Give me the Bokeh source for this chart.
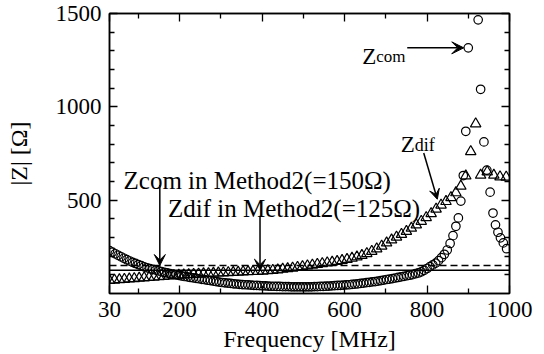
from bokeh.plotting import figure
from bokeh.models import Range1d, LinearAxis, FixedTicker, Span, Label, Arrow, VeeHead
from bokeh.embed import file_html
from bokeh.resources import INLINE

# Common-mode impedance |Zcom| (open circles)
freq_com = [
    30, 37, 44, 51, 58, 65, 72, 79, 86, 93,
    100, 107, 114, 121, 128, 135, 142, 149, 156, 163,
    170, 177, 184, 191, 198, 205, 212, 219, 226, 233,
    240, 247, 254, 261, 268, 275, 282, 289, 296, 303,
    310, 317, 324, 331, 338, 345, 352, 359, 366, 373,
    380, 387, 394, 401, 408, 415, 422, 429, 436, 443,
    450, 457, 464, 471, 478, 485, 492, 499, 506, 513,
    520, 527, 534, 541, 548, 555, 562, 569, 576, 583,
    590, 597, 604, 611, 618, 625, 632, 639, 646, 653,
    660, 667, 674, 681, 688, 695, 702, 709, 716, 723,
    730, 737, 744, 751, 758, 765, 772, 779, 786, 793,
    800, 807, 814, 821, 828, 835, 842, 849, 856, 863,
    870, 876, 882, 888, 894, 900, 924, 930, 938, 945,
    953, 960, 966, 972, 978, 985, 993,
]
z_com = [
    230, 222, 213, 205, 197, 189, 181, 174, 167, 161,
    155, 149, 143, 138, 133, 129, 125, 121, 117, 113,
    110, 106, 103, 100, 97, 94, 91, 89, 86, 84,
    81, 79, 76, 74, 71, 69, 66, 64, 61, 59,
    57, 56, 54, 52, 51, 49, 48, 47, 46, 45,
    44, 43, 42, 41, 41, 40, 39, 39, 38, 38,
    37, 37, 37, 36, 36, 36, 36, 36, 36, 36,
    36, 37, 37, 38, 38, 39, 40, 41, 42, 43,
    44, 45, 46, 47, 49, 50, 52, 54, 56, 58,
    60, 62, 64, 66, 69, 72, 75, 77, 80, 83,
    86, 89, 92, 95, 98, 101, 106, 110, 116, 124,
    134, 144, 153, 163, 176, 192, 210, 233, 268, 310,
    360, 405, 495, 632, 869, 1316, 1466, 1094, 812, 661,
    543, 431, 368, 328, 298, 271, 240,
]

# Differential-mode impedance |Zdif| (open triangles)
freq_dif = [
    30, 42, 54, 66, 78, 90, 102, 114, 126, 138,
    150, 162, 174, 186, 198, 210, 222, 234, 246, 258,
    270, 282, 294, 306, 318, 330, 342, 354, 366, 378,
    390, 402, 414, 426, 438, 450, 462, 474, 486, 498,
    510, 522, 534, 546, 558, 570, 582, 594, 606, 618,
    630, 642, 654, 666, 678, 690, 702, 714, 726, 738,
    750, 762, 774, 786, 798, 810, 822, 834, 846, 858,
    870, 882, 894, 906, 918, 930, 946, 962, 977, 992,
]
z_dif = [
    70, 72, 74, 76, 78, 80, 82, 84, 86, 88,
    90, 92, 94, 96, 98, 100, 101, 103, 104, 106,
    107, 109, 110, 111, 112, 113, 114, 116, 117, 118,
    119, 120, 122, 124, 127, 130, 133, 136, 140, 144,
    148, 152, 156, 160, 164, 168, 172, 177, 183, 189,
    196, 204, 214, 226, 239, 254, 271, 287, 302, 317,
    333, 350, 368, 387, 407, 428, 452, 474, 493, 514,
    540, 575, 630, 760, 909, 634, 652, 634, 625, 624,
]

# Reference impedances from Method2
z_com_method2 = 150
z_dif_method2 = 125

x_ticks = [30, 200, 400, 600, 800, 1000]
x_minor = [100, 300, 500, 700, 900]
y_ticks = [500, 1000, 1500]
y_minor = [100, 200, 300, 400, 600, 700, 800, 900, 1100, 1200, 1300, 1400]

SERIF = "Liberation Serif"

p = figure(
    width=544, height=354,
    x_range=Range1d(30, 1000), y_range=Range1d(0, 1500),
    output_backend="svg", toolbar_location=None,
    x_axis_label="Frequency [MHz]", y_axis_label="|Z| [Ω]",
    min_border_left=109, min_border_right=35,
    min_border_top=13, min_border_bottom=61,
)
p.background_fill_color = "white"
p.border_fill_color = "white"
p.outline_line_color = "black"
p.outline_line_width = 1.5
p.xgrid.visible = False
p.ygrid.visible = False


def style_axis(ax, ticks, minor, labels=True):
    ax.ticker = FixedTicker(ticks=ticks, minor_ticks=minor)
    ax.axis_line_color = "black"
    ax.axis_line_width = 1.5
    ax.major_tick_in = 8
    ax.major_tick_out = 0
    ax.minor_tick_in = 5
    ax.minor_tick_out = 0
    ax.major_tick_line_width = 1.3
    ax.minor_tick_line_width = 1.3
    ax.major_tick_line_color = "black"
    ax.minor_tick_line_color = "black"
    if labels:
        ax.major_label_text_font = SERIF
        ax.major_label_text_font_size = "23px"
        ax.major_label_text_color = "black"
        ax.axis_label_text_font = SERIF
        ax.axis_label_text_font_size = "24px"
        ax.axis_label_text_font_style = "normal"
        ax.axis_label_text_color = "black"
    else:
        # tick marks only on the mirrored sides
        ax.major_label_text_font_size = "0px"
        ax.major_label_text_color = None
        ax.major_label_standoff = 0


xa = p.xaxis[0]
style_axis(xa, x_ticks, x_minor)
xa.major_label_standoff = 8
xa.axis_label_standoff = 6

ya = p.yaxis[0]
style_axis(ya, y_ticks, y_minor)
ya.major_label_standoff = 8
ya.axis_label_standoff = 21

top_axis = LinearAxis()
style_axis(top_axis, x_ticks, x_minor, labels=False)
p.add_layout(top_axis, "above")

right_axis = LinearAxis()
style_axis(right_axis, y_ticks, y_minor, labels=False)
p.add_layout(right_axis, "right")

# Method2 reference levels
p.add_layout(Span(location=z_com_method2, dimension="width", line_color="black",
                  line_width=1.3, line_dash="7 4"))
p.add_layout(Span(location=z_dif_method2, dimension="width", line_color="black",
                  line_width=1.5))

# Measured impedances
p.scatter(freq_dif, z_dif, marker="triangle", size=10.5, fill_color=None,
          line_color="black", line_width=1.2)
p.scatter(freq_com, z_com, marker="circle", size=8.5, fill_color=None,
          line_color="black", line_width=1.2)


def label(x, y, text, size, x_offset=0):
    p.add_layout(Label(x=x, y=y, text=text, x_offset=x_offset,
                       text_font=SERIF, text_font_size=size,
                       text_color="black", text_baseline="alphabetic"))


label(64, 604, "Zcom in Method2(=150Ω)", "25px")
label(172, 458, "Zdif in Method2(=125Ω)", "25px")
label(643, 1272, "Z", "23px")
label(643, 1272, "com", "17px", x_offset=14)
label(736, 798, "Z", "23px")
label(736, 798, "dif", "18px", x_offset=14)


def arrow(x0, y0, x1, y1, head):
    p.add_layout(Arrow(end=VeeHead(size=head, fill_color="black", line_color="black"),
                       x_start=x0, y_start=y0, x_end=x1, y_end=y1,
                       line_color="black", line_width=1.5))


arrow(752, 1316, 889, 1316, 12)
arrow(152, 581, 152, z_com_method2, 11)
arrow(395, 416, 395, z_dif_method2, 11)
arrow(792, 753, 825, 505, 10)

open("out.html", "w").write(file_html(p, INLINE))
